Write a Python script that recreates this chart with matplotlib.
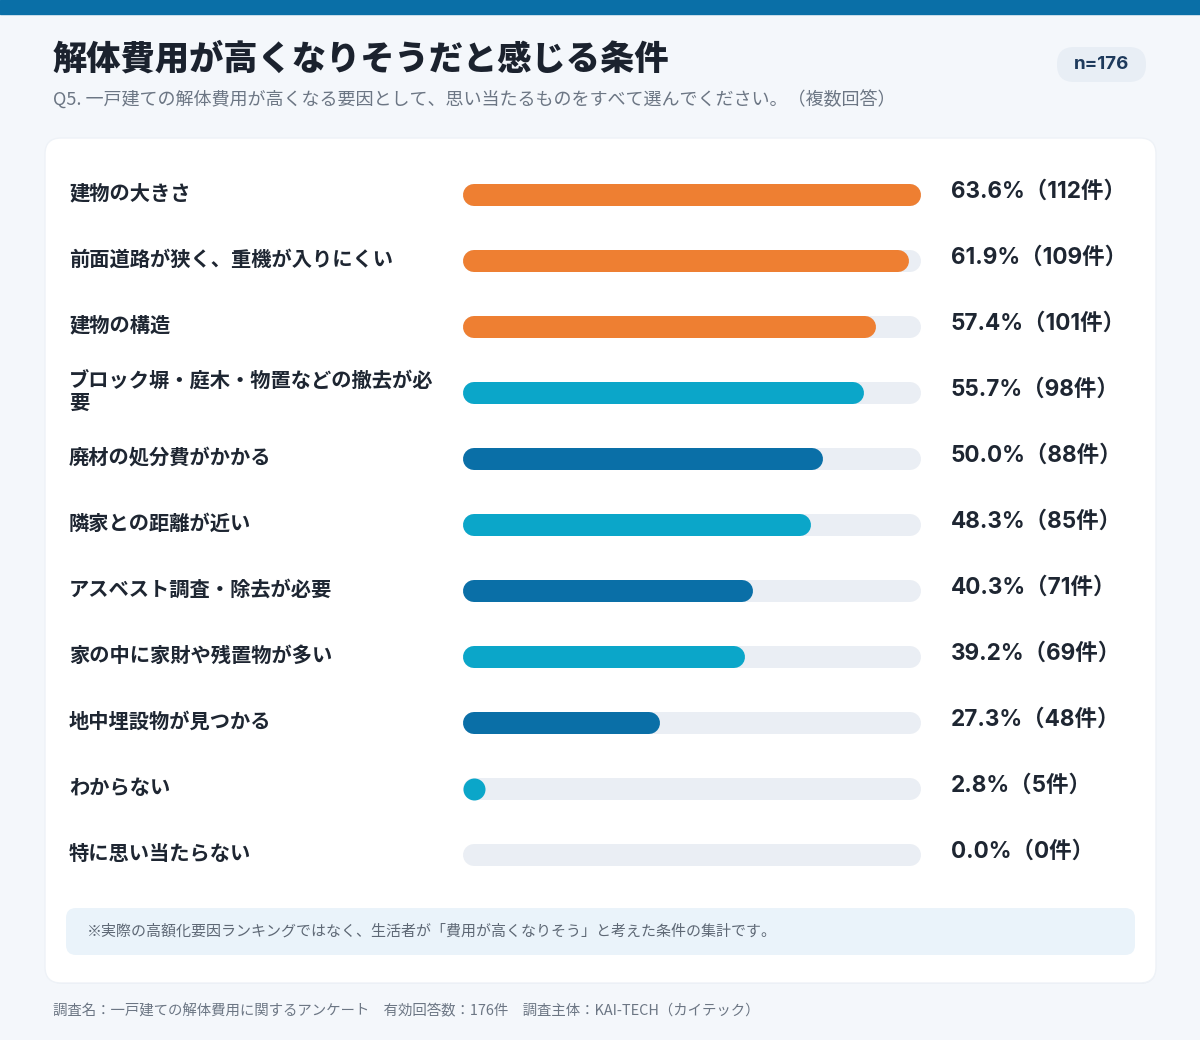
import matplotlib.pyplot as plt
import matplotlib.transforms as mtransforms
from matplotlib.patches import FancyBboxPatch, Rectangle

plt.rcParams['font.family'] = ['Noto Sans CJK JP', 'DejaVu Sans']

# data
labels = [
    "建物の大きさ",
    "前面道路が狭く、重機が入りにくい",
    "建物の構造",
    "ブロック塀・庭木・物置などの撤去が必\n要",
    "廃材の処分費がかかる",
    "隣家との距離が近い",
    "アスベスト調査・除去が必要",
    "家の中に家財や残置物が多い",
    "地中埋設物が見つかる",
    "わからない",
    "特に思い当たらない",
]
percents = [63.6, 61.9, 57.4, 55.7, 50.0, 48.3, 40.3, 39.2, 27.3, 2.8, 0.0]
counts = [112, 109, 101, 98, 88, 85, 71, 69, 48, 5, 0]
groups = ["top", "top", "top", "a", "b", "a", "b", "a", "b", "a", "a"]

title = "解体費用が高くなりそうだと感じる条件"
subtitle = "Q5. 一戸建ての解体費用が高くなる要因として、思い当たるものをすべて選んでください。（複数回答）"
sample = "n=176"
note = "※実際の高額化要因ランキングではなく、生活者が「費用が高くなりそう」と考えた条件の集計です。"
footer = "調査名：一戸建ての解体費用に関するアンケート　有効回答数：176件　調査主体：KAI-TECH（カイテック）"

group_colors = {"top": "#EE7F32", "a": "#0BA6C9", "b": "#0A6FA7"}
track_color = "#EAEEF4"
text_dark = "#1E2632"

W, H = 1200, 1040
fig = plt.figure(figsize=(W / 100, H / 100), dpi=100)
fig.patch.set_facecolor("#F4F7FB")

bg = fig.add_axes([0, 0, 1, 1])
bg.set_xlim(0, W)
bg.set_ylim(H, 0)
bg.axis("off")

# top band
bg.add_patch(Rectangle((0, 0), W, 14, color="#0A6FA7", zorder=1))

# card with soft shadow
bg.add_patch(FancyBboxPatch((47, 141), 1109, 843, boxstyle="round,pad=0,rounding_size=16",
                            fc="#E3E9F1", ec="none", alpha=0.6, zorder=1))
bg.add_patch(FancyBboxPatch((45, 138), 1111, 845, boxstyle="round,pad=0,rounding_size=16",
                            fc="white", ec="#EEF2F7", lw=1, zorder=2))

# header
bg.text(53, 59, title, fontsize=24.7, fontweight=900, color="#1B222E", va="center", ha="left")
bg.text(53, 100, subtitle, fontsize=13.0, color="#6C7684", va="center", ha="left")
bg.add_patch(FancyBboxPatch((1057, 47), 89, 35, boxstyle="round,pad=0,rounding_size=17",
                            fc="#E8EEF5", ec="none", zorder=2))
bg.text(1101.5, 64.5, sample, fontsize=13.5, fontweight="bold", color="#1E3A5C",
        va="center", ha="center", zorder=3, family=["Inter", "Noto Sans CJK JP"])

# note box
bg.add_patch(FancyBboxPatch((66, 908), 1069, 47, boxstyle="round,pad=0,rounding_size=10",
                            fc="#EAF3FA", ec="none", zorder=3))
bg.text(87, 931, note, fontsize=10.8, color="#5E6875", va="center", ha="left", zorder=4)

# footer
bg.text(53, 1011, footer, fontsize=10.4, color="#6C7684", va="center", ha="left")

# bars
x0, x1 = 463, 921
row_top, row_h = 162, 66
n = len(labels)
ax = fig.add_axes([x0 / W, 1 - (row_top + row_h * n) / H, (x1 - x0) / W, row_h * n / H])
ax.set_zorder(5)
ax.patch.set_alpha(0)
vmax = max(percents)
ax.set_xlim(0, vmax)
ax.set_ylim(n - 0.5, -0.5)
ax.axis("off")

bar_px = 22
lw = bar_px * 72 / 100
cap = vmax * (bar_px / 2) / (x1 - x0)

for i, (p, g) in enumerate(zip(percents, groups)):
    ax.plot([cap, vmax - cap], [i, i], color=track_color, lw=lw,
            solid_capstyle="round", zorder=1)
    if p <= 0:
        continue
    if p - cap > cap:
        ax.plot([cap, p - cap], [i, i], color=group_colors[g], lw=lw,
                solid_capstyle="round", zorder=2)
    else:
        ax.plot([cap], [i], marker="o", ms=lw, mew=0, color=group_colors[g], zorder=2)

mixed = mtransforms.blended_transform_factory(bg.transData, ax.transData)
for i, (lab, p, c) in enumerate(zip(labels, percents, counts)):
    ax.text(69, i - 0.03, lab, transform=mixed, fontsize=14.6, fontweight="bold",
            color=text_dark, va="center", ha="left", linespacing=1.1, clip_on=False)
    ax.text(951, i - 0.05, f"{p:.1f}%（{c}件）", transform=mixed, fontsize=16.2,
            fontweight="bold", color=text_dark, va="center", ha="left", clip_on=False,
            family=["Inter", "Noto Sans CJK JP"])

fig.savefig("out.png", dpi=100, facecolor=fig.get_facecolor())
